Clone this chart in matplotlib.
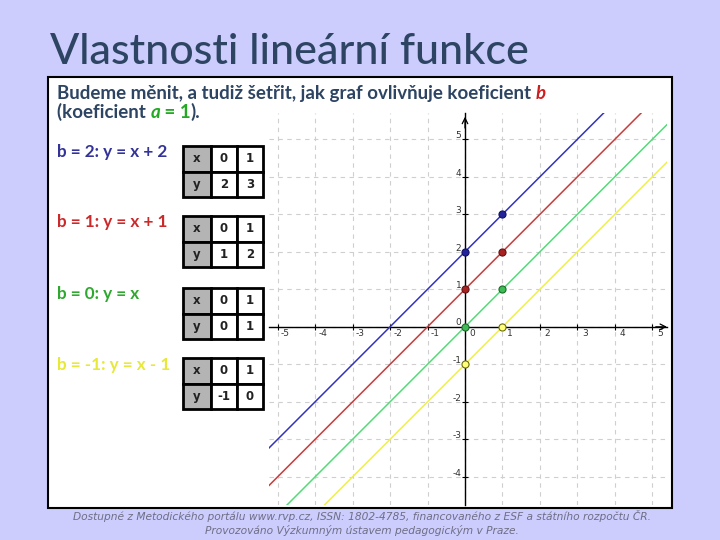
import matplotlib
matplotlib.use("Agg")
import matplotlib.pyplot as plt
from matplotlib.patches import Rectangle

# data shown on the slide
b_values = [2, 1, 0, -1]
line_labels = ["b = 2: y = x + 2", "b = 1: y = x + 1", "b = 0: y = x", "b = -1: y = x - 1"]
table_x = [0, 1]
table_y = [[2, 3], [1, 2], [0, 1], [-1, 0]]
x_ticks = [-5, -4, -3, -2, -1, 0, 1, 2, 3, 4, 5]
y_ticks = [-4, -3, -2, -1, 0, 1, 2, 3, 4, 5]

line_colors = ["#3434b4", "#cc3a3a", "#55d97a", "#f0f04a"]
label_colors = ["#333399", "#cc2a2a", "#2fa82f", "#e8e83a"]
point_faces = ["#22229a", "#a82222", "#3dbb55", "#ffff7a"]
point_edges = ["#111166", "#661111", "#1d6b2a", "#6b6b10"]

font = ["Lato", "DejaVu Sans"]
dark = "#2d4563"

W, H = 720, 540
fig = plt.figure(figsize=(7.2, 5.4), dpi=100, facecolor="#ccccfd")
bg = fig.add_axes([0, 0, 1, 1])
bg.set_xlim(0, W)
bg.set_ylim(H, 0)
bg.axis("off")

bg.add_patch(Rectangle((48, 77), 623.5, 431, facecolor="white", edgecolor="black", lw=1.5))

bg.text(50, 64, "Vlastnosti lineární funkce", fontsize=31, family=font,
        weight="medium", color=dark, va="baseline")

# intro text with coloured coefficients
fs = 13.5
t = bg.text(57, 99, "Budeme měnit, a tudiž šetřit, jak graf ovlivňuje koeficient ",
            fontsize=fs, family=font, weight="bold", color=dark, va="baseline")
bg.annotate("b", xy=(1, 0), xycoords=t, fontsize=fs, family=font, weight="bold",
            style="italic", color="#cc1f1f", va="bottom")
t = bg.text(57, 118, "(koeficient ", fontsize=fs, family=font, weight="bold",
            color=dark, va="baseline")
t = bg.annotate("a", xy=(1, 0), xycoords=t, fontsize=fs, family=font, weight="bold",
                style="italic", color="#22aa22", va="bottom")
t = bg.annotate(" = 1", xy=(1, 0), xycoords=t, fontsize=fs, family=font, weight="bold",
                color="#22aa22", va="bottom")
bg.annotate(").", xy=(1, 0), xycoords=t, fontsize=fs, family=font, weight="bold",
            color=dark, va="bottom")

# labels and value tables
label_y = [152, 222, 294, 365]
table_top = [146, 216, 288, 358]
for i in range(4):
    bg.text(57, label_y[i], line_labels[i], fontsize=12.3, family=font, weight="bold",
            color=label_colors[i], va="center")
    tax = fig.add_axes([183 / W, 1 - (table_top[i] + 51) / H, 80 / W, 51 / H])
    tax.axis("off")
    cells = [["x"] + [str(v) for v in table_x], ["y"] + [str(v) for v in table_y[i]]]
    tb = tax.table(cellText=cells, cellColours=[["#b4b4b4", "white", "white"]] * 2,
                   colWidths=[0.35, 0.325, 0.325], bbox=[0, 0, 1, 1], cellLoc="center")
    tb.auto_set_font_size(False)
    for (r, c), cell in tb.get_celld().items():
        cell.set_linewidth(2)
        cell.get_text().set_fontsize(8.5)
        cell.get_text().set_weight("bold")
        cell.get_text().set_color("#222222")

# coordinate graph
x0, x1, y0, y1 = -5.23, 5.39, -4.75, 5.7
ax = fig.add_axes([269 / W, 1 - 505 / H, 398 / W, 392 / H])
ax.set_xlim(x0, x1)
ax.set_ylim(y0, y1)
ax.set_facecolor("none")
for s in ["top", "right"]:
    ax.spines[s].set_visible(False)
ax.spines["left"].set_position("zero")
ax.spines["bottom"].set_position("zero")
ax.spines["left"].set_linewidth(1)
ax.spines["bottom"].set_linewidth(1)
ax.set_xticks(x_ticks)
ax.set_yticks(y_ticks)
ax.set_xticklabels([])
ax.set_yticklabels([])
ax.tick_params(direction="inout", length=4, width=0.8)
ax.grid(True, color="#cfcfcf", ls=(0, (4, 4)), lw=0.8)
ax.set_axisbelow(True)

for v in x_ticks:
    ax.text(v + 0.2, -0.18, str(v), fontsize=6.5, color="#333333", ha="center", va="center")
for v in y_ticks:
    if v != 0:
        ax.text(-0.1, v + 0.1, str(v), fontsize=6.5, color="#333333", ha="right", va="center")
ax.text(-0.1, 0.12, "0", fontsize=6.5, color="#333333", ha="right", va="center")

ax.annotate("", xy=(x1, 0), xytext=(x1 - 0.3, 0),
            arrowprops=dict(arrowstyle="->", lw=0.9, color="black", shrinkA=0, shrinkB=0))
ax.annotate("", xy=(0, y1 - 0.1), xytext=(0, y1 - 0.4),
            arrowprops=dict(arrowstyle="->", lw=0.9, color="black", shrinkA=0, shrinkB=0))

for i in range(4):
    ax.axline((table_x[0], table_y[i][0]), (table_x[1], table_y[i][1]),
              color=line_colors[i], lw=1.1, zorder=3)
    ax.scatter(table_x, table_y[i], s=26, color=point_faces[i],
               edgecolors=point_edges[i], linewidths=0.8, zorder=4, clip_on=False)

bg.text(362, 516, "Dostupné z Metodického portálu www.rvp.cz, ISSN: 1802-4785, financovaného z ESF a státního rozpočtu ČR.",
        fontsize=7.7, style="italic", color="#6e6e86", ha="center", va="center")
bg.text(362, 530, "Provozováno Výzkumným ústavem pedagogickým v Praze.",
        fontsize=7.7, style="italic", color="#6e6e86", ha="center", va="center")

fig.savefig("out.png", dpi=100, facecolor=fig.get_facecolor())
